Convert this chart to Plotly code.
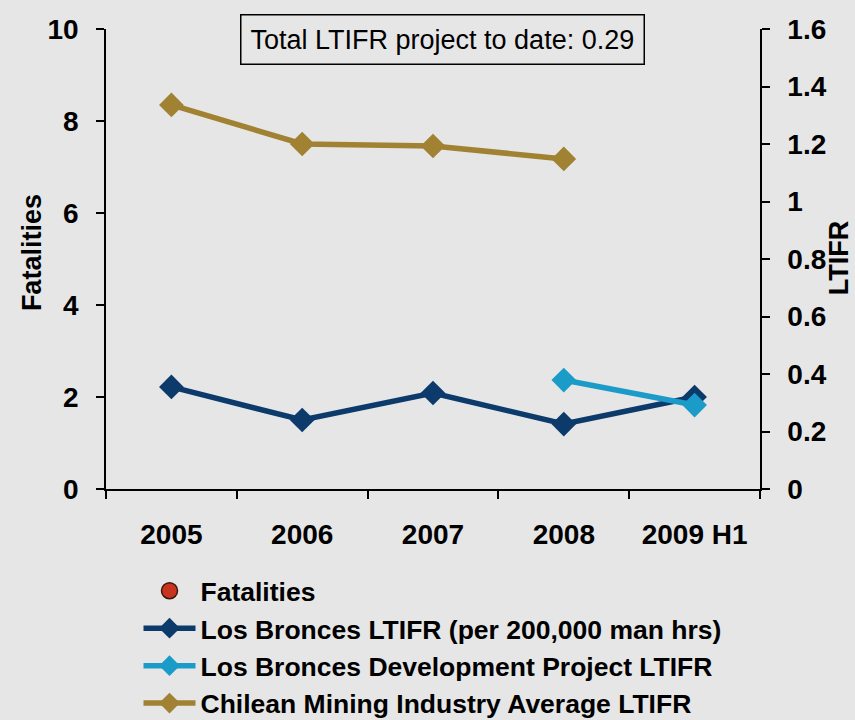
import plotly.graph_objects as go

categories = ["2005", "2006", "2007", "2008", "2009 H1"]
fatalities = [None, None, None, None, None]
los_bronces_ltifr = [0.355, 0.24, 0.334, 0.226, 0.32]
dev_project_ltifr = [None, None, None, 0.379, 0.292]
chile_avg_ltifr = [1.336, 1.20, 1.193, 1.148, None]
annotation_text = "Total LTIFR project to date: 0.29"
left_title = "Fatalities"
right_title = "LTIFR"

BG = "#e6e6e6"
FONT = "Liberation Sans, Arial, sans-serif"

fig = go.Figure()
fig.add_trace(go.Scatter(
    x=categories, y=fatalities, name="Fatalities", mode="markers",
    marker=dict(symbol="circle", size=18, color="#c8341e", line=dict(color="#3a1a10", width=1.5)),
    yaxis="y", legendgroup="a"))
fig.add_trace(go.Scatter(
    x=categories, y=los_bronces_ltifr, name="Los Bronces LTIFR (per 200,000 man hrs)",
    mode="lines+markers", line=dict(color="#0b3a6b", width=5.5),
    marker=dict(symbol="diamond", size=19, color="#0b3a6b"), yaxis="y2", legendgroup="b"))
fig.add_trace(go.Scatter(
    x=categories, y=dev_project_ltifr, name="Los Bronces Development Project LTIFR",
    mode="lines+markers", line=dict(color="#1b9bc8", width=5.5),
    marker=dict(symbol="diamond", size=19, color="#1b9bc8"), yaxis="y2", legendgroup="c"))
fig.add_trace(go.Scatter(
    x=categories, y=chile_avg_ltifr, name="Chilean Mining Industry Average LTIFR",
    mode="lines+markers", line=dict(color="#a08232", width=5.5),
    marker=dict(symbol="diamond", size=19, color="#a08232"), yaxis="y2", legendgroup="d"))

axis_common = dict(
    showgrid=False, zeroline=False, showline=True, linecolor="black", linewidth=1.5,
    ticks="outside", ticklen=8, tickwidth=1.5, tickcolor="black",
    tickfont=dict(family=FONT, size=28, color="black", weight="bold"),
)

title_font = dict(family=FONT, size=27, color="black", weight="bold")

fig.update_layout(
    width=855, height=720,
    paper_bgcolor=BG, plot_bgcolor=BG,
    margin=dict(l=106, r=95, t=29, b=231, autoexpand=False),
    font=dict(family=FONT, color="black"),
    xaxis=dict(**axis_common, type="category", tickson="boundaries", ticklabelstandoff=20,
               range=[-0.5, 4.5]),
    yaxis=dict(**axis_common, range=[0, 10], dtick=2, ticklabelstandoff=12),
    yaxis2=dict(**axis_common, range=[0, 1.6], dtick=0.2, overlaying="y", side="right",
                ticklabelstandoff=12),
    legend=dict(xref="container", yref="container", x=0.162, xanchor="left", y=0.2125, yanchor="top",
                font=dict(family=FONT, size=26.5, color="black", weight="bold"),
                bgcolor="rgba(0,0,0,0)", itemwidth=52, tracegroupgap=0,
                traceorder="grouped"),
    showlegend=True,
    annotations=[
        dict(text=annotation_text, xref="paper", yref="paper", x=0.514, y=0.978,
             xanchor="center", yanchor="middle", showarrow=False,
             font=dict(family=FONT, size=27, color="black"),
             bordercolor="black", borderwidth=1.5, borderpad=9, bgcolor=BG),
        dict(text=left_title, xref="paper", yref="paper", x=-0.113, y=0.513,
             xanchor="center", yanchor="middle", showarrow=False, textangle=-90,
             font=title_font),
        dict(text=right_title, xref="paper", yref="paper", x=1.121, y=0.502,
             xanchor="center", yanchor="middle", showarrow=False, textangle=-90,
             font=title_font),
    ],
)

fig.write_html(
    "out.html",
    config={"displayModeBar": False},
    post_script="document.body.style.margin='0';document.body.style.overflow='hidden';document.body.style.background='%s';" % BG,
)
